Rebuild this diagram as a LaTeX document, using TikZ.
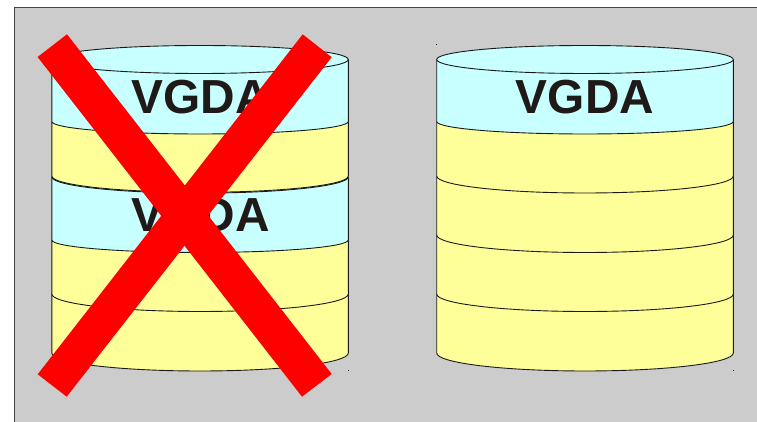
\documentclass[tikz,border=0pt]{standalone}
\usepackage{fontspec}
\setmainfont{Liberation Sans}
\definecolor{panelgrey}{HTML}{CCCCCC}
\definecolor{bandcyan}{HTML}{C8FFFF}
\definecolor{bandyellow}{HTML}{FFFF99}
\definecolor{labelink}{HTML}{1F1A17}
\definecolor{framegrey}{HTML}{444444}
\tikzset{
  bandline/.style={draw=black!90,line width=0.9pt,line join=round},
  vgdalabel/.style={anchor=base,inner sep=0pt,text=labelink,font=\fontsize{47.8pt}{47.8pt}\selectfont\bfseries},
  crossbar/.style={fill=red,draw=none},
  speck/.style={fill=black,draw=none}
}
% #1 left x, #2 x radius, #3 top side y, #4 lower side y, #5 y radius, #6 colour
\newcommand{\diskband}[6]{%
  \path[bandline,fill=#6] (#1,#3) -- (#1,#4)
    arc[start angle=180,end angle=360,x radius=#2pt,y radius=#5pt] -- ++(0,#3-#4) -- cycle;}
\begin{document}
\begin{tikzpicture}[x=1pt,y=1pt]
\useasboundingbox (0,0) rectangle (757,422);
\clip (0,0) rectangle (757,422);
\fill[white] (0,0) rectangle (757,422);
\fill[panelgrey] (14.5,0) rectangle (757,414.5);
\draw[framegrey,line width=0.9pt] (14.5,0) -- (14.5,414.5) -- (757,414.5);

% left stack
\diskband{51.8}{148.25}{128}{69}{18}{bandyellow}
\diskband{51.8}{148.25}{182}{128}{17.5}{bandyellow}
\diskband{51.8}{148.25}{245}{182}{12.5}{bandcyan}
\diskband{51.8}{148.25}{300}{246}{16.3}{bandyellow}
\path[bandline] (51.8,245.2) arc[start angle=180,end angle=360,x radius=148.25pt,y radius=16.3pt];
\diskband{51.8}{148.25}{362.5}{300.5}{12.5}{bandcyan}
\path[bandline,fill=bandcyan] (200,362.5) ellipse[x radius=148.25pt,y radius=14pt];
\node[vgdalabel] (leftupper) at (200.5,308) {VGDA};
\node[vgdalabel] (leftlower) at (200.5,190) {VGDA};

% right stack
\diskband{436.7}{148.3}{128}{69}{18}{bandyellow}
\diskband{436.7}{148.3}{187}{128}{17.5}{bandyellow}
\diskband{436.7}{148.3}{246}{187}{17.5}{bandyellow}
\diskband{436.7}{148.3}{300.5}{246}{17}{bandyellow}
\diskband{436.7}{148.3}{362.5}{300.5}{12.5}{bandcyan}
\path[bandline,fill=bandcyan] (585,362.5) ellipse[x radius=148.3pt,y radius=14pt];
\node[vgdalabel] (rightlabel) at (585,308) {VGDA};

% specks
\fill[speck] (348,50.5) rectangle (349,51.5);
\fill[speck] (733,50.5) rectangle (734,51.5);
\fill[speck] (436,376.5) rectangle (437,377.5);

% red cross
\fill[crossbar] (37.6,365) -- (67,387.7) -- (331.7,48) -- (302,25.3) -- cycle;
\fill[crossbar] (331.7,364.8) -- (302.7,387.7) -- (37.7,47.7) -- (66.7,25.3) -- cycle;
\end{tikzpicture}
\end{document}
